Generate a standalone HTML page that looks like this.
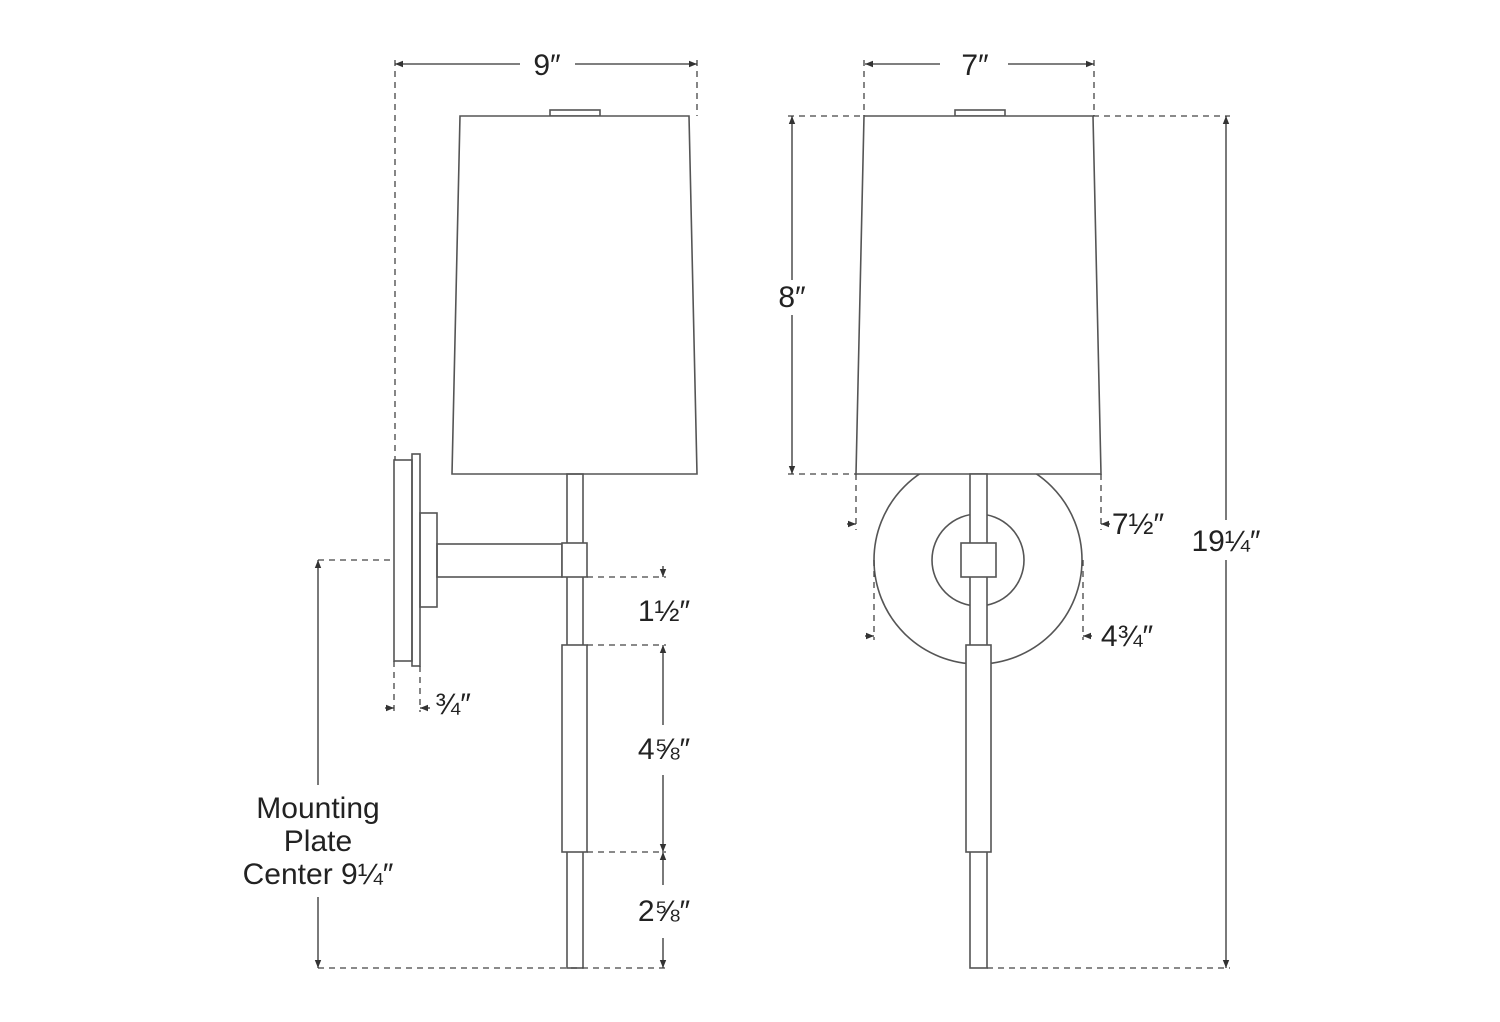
<!DOCTYPE html>
<html><head><style>html,body{margin:0;padding:0;background:#fff}svg{display:block}
text{font-family:"Liberation Sans",sans-serif;fill:#222;font-size:30px}</style></head>
<body>
<svg width="1500" height="1022" viewBox="0 0 1500 1022" xmlns="http://www.w3.org/2000/svg">
<defs>
<marker id="a" viewBox="0 0 10 10" refX="10" refY="5" markerWidth="8" markerHeight="8" orient="auto-start-reverse" markerUnits="userSpaceOnUse"><path d="M0,1 L10,5 L0,9 Z" fill="#333"/></marker>
</defs>
<g fill="none" stroke="#555" stroke-width="1.6">
<rect x="550" y="110" width="50" height="6"/>
<polygon points="460,116 689,116 697,474 452,474" fill="#fff"/>
<rect x="567" y="474" width="16" height="494"/>
<rect x="394" y="460" width="18" height="201"/>
<rect x="412" y="454" width="8" height="212"/>
<rect x="420" y="513" width="17" height="94"/>
<rect x="437" y="544" width="125" height="33"/>
<rect x="562" y="543" width="25" height="34" fill="#fff"/>
<rect x="562" y="645" width="25" height="207" fill="#fff"/>
<circle cx="978" cy="560" r="104"/>
<circle cx="978" cy="560" r="46"/>
<rect x="955" y="110" width="50" height="6"/>
<polygon points="864,116 1093,116 1101,474 856,474" fill="#fff"/>
<rect x="970" y="474" width="17" height="494" fill="#fff"/>
<rect x="961" y="543" width="35" height="34" fill="#fff"/>
<rect x="966" y="645" width="25" height="207" fill="#fff"/>
</g>
<g fill="none" stroke="#444" stroke-width="1.3" stroke-dasharray="6,5">
<line x1="395" y1="60" x2="395" y2="460"/>
<line x1="697" y1="60" x2="697" y2="116"/>
<line x1="318" y1="560" x2="394" y2="560"/>
<line x1="318" y1="968" x2="666" y2="968"/>
<line x1="587" y1="577" x2="666" y2="577"/>
<line x1="587" y1="645" x2="666" y2="645"/>
<line x1="587" y1="852" x2="666" y2="852"/>
<line x1="394" y1="661" x2="394" y2="712"/>
<line x1="420" y1="666" x2="420" y2="712"/>
<line x1="864" y1="60" x2="864" y2="116"/>
<line x1="1094" y1="60" x2="1094" y2="116"/>
<line x1="788" y1="116" x2="864" y2="116"/>
<line x1="788" y1="474" x2="856" y2="474"/>
<line x1="1093" y1="116" x2="1230" y2="116"/>
<line x1="987" y1="968" x2="1230" y2="968"/>
<line x1="856" y1="474" x2="856" y2="530"/>
<line x1="1101" y1="474" x2="1101" y2="530"/>
<line x1="874" y1="560" x2="874" y2="640"/>
<line x1="1083" y1="560" x2="1083" y2="640"/>
</g>
<g stroke="#333" stroke-width="1.3" fill="none">
<line x1="395" y1="64" x2="520" y2="64" marker-start="url(#a)"/>
<line x1="575" y1="64" x2="697" y2="64" marker-end="url(#a)"/>
<line x1="865" y1="64" x2="940" y2="64" marker-start="url(#a)"/>
<line x1="1008" y1="64" x2="1094" y2="64" marker-end="url(#a)"/>
<line x1="318" y1="560" x2="318" y2="785" marker-start="url(#a)"/>
<line x1="318" y1="897" x2="318" y2="968" marker-end="url(#a)"/>
<line x1="663" y1="566" x2="663" y2="577" marker-end="url(#a)"/>
<line x1="663" y1="645" x2="663" y2="725" marker-start="url(#a)"/>
<line x1="663" y1="775" x2="663" y2="852" marker-end="url(#a)"/>
<line x1="663" y1="852" x2="663" y2="885" marker-start="url(#a)"/>
<line x1="663" y1="938" x2="663" y2="968" marker-end="url(#a)"/>
<line x1="385" y1="708" x2="394" y2="708" marker-end="url(#a)"/>
<line x1="430" y1="708" x2="420" y2="708" marker-end="url(#a)"/>
<line x1="792" y1="116" x2="792" y2="280" marker-start="url(#a)"/>
<line x1="792" y1="315" x2="792" y2="474" marker-end="url(#a)"/>
<line x1="1226" y1="116" x2="1226" y2="520" marker-start="url(#a)"/>
<line x1="1226" y1="560" x2="1226" y2="968" marker-end="url(#a)"/>
<line x1="847" y1="524" x2="856" y2="524" marker-end="url(#a)"/>
<line x1="1110" y1="524" x2="1101" y2="524" marker-end="url(#a)"/>
<line x1="865" y1="636" x2="874" y2="636" marker-end="url(#a)"/>
<line x1="1092" y1="636" x2="1083" y2="636" marker-end="url(#a)"/>
</g>
<text x="547" y="75" text-anchor="middle">9″</text>
<text x="975" y="75" text-anchor="middle">7″</text>
<text x="792" y="307" text-anchor="middle">8″</text>
<text x="1226" y="551" text-anchor="middle">19¼″</text>
<text x="1138" y="534" text-anchor="middle">7½″</text>
<text x="1127" y="646" text-anchor="middle">4¾″</text>
<text x="664" y="621" text-anchor="middle">1½″</text>
<text x="664" y="759" text-anchor="middle">4⅝″</text>
<text x="664" y="921" text-anchor="middle">2⅝″</text>
<text x="453" y="714" text-anchor="middle" font-size="26">¾″</text>
<text x="318" y="818" text-anchor="middle" font-size="31">Mounting</text>
<text x="318" y="851" text-anchor="middle" font-size="31">Plate</text>
<text x="318" y="884" text-anchor="middle" font-size="31">Center 9¼″</text>
</svg>
</body></html>
